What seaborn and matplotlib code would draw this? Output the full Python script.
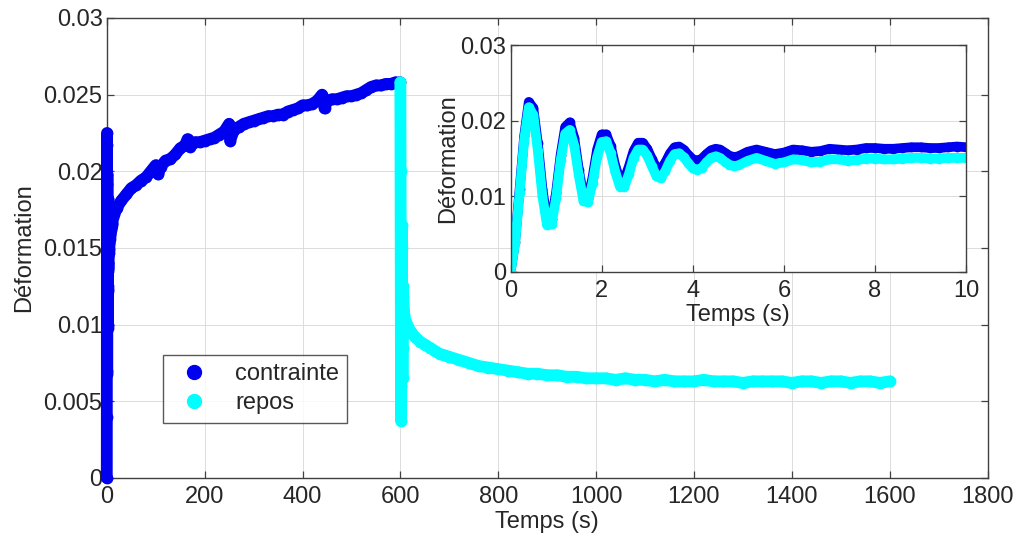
import matplotlib
matplotlib.use("Agg")
import matplotlib.pyplot as plt
from matplotlib.lines import Line2D
import seaborn as sns

sns.set_style("ticks", {"xtick.direction": "in", "ytick.direction": "in"})
plt.rcParams['font.family'] = ['Liberation Sans', 'DejaVu Sans']
plt.rc("font", size=17)

BLUE = "#0000f0"
CYAN = "#00ffff"

# inset: first 10 s
t_short = [0.0, 0.1, 0.2, 0.3, 0.4, 0.5, 0.6, 0.7, 0.8, 0.9,
           1.0, 1.1, 1.2, 1.3, 1.4, 1.5, 1.6, 1.7, 1.8, 1.9,
           2.0, 2.1, 2.2, 2.3, 2.4, 2.5, 2.6, 2.7, 2.8, 2.9,
           3.0, 3.1, 3.2, 3.3, 3.4, 3.5, 3.6, 3.7, 3.8, 3.9,
           4.0, 4.1, 4.2, 4.3, 4.4, 4.5, 4.6, 4.7, 4.8, 4.9,
           5.0, 5.2, 5.4, 5.6, 5.8, 6.0, 6.2, 6.4, 6.6, 6.8,
           7.0, 7.2, 7.4, 7.6, 7.8, 8.0, 8.2, 8.4, 8.6, 8.8,
           9.0, 9.2, 9.4, 9.6, 9.8, 10.0]
contrainte_short = [0.0000, 0.0040, 0.0110, 0.0180, 0.0225, 0.0217, 0.0170, 0.0110, 0.0068, 0.0070,
                    0.0105, 0.0155, 0.0192, 0.0198, 0.0177, 0.0135, 0.0100, 0.0098, 0.0125, 0.0162,
                    0.0182, 0.0182, 0.0167, 0.0140, 0.0122, 0.0123, 0.0140, 0.0160, 0.0171, 0.0171,
                    0.0163, 0.0150, 0.0138, 0.0136, 0.0145, 0.0157, 0.0165, 0.0166, 0.0162, 0.0155,
                    0.0149, 0.0147, 0.0150, 0.0156, 0.0161, 0.0163, 0.0162, 0.0158, 0.0154, 0.0152,
                    0.0153, 0.0159, 0.0162, 0.0159, 0.0156, 0.0158, 0.0162, 0.0161, 0.0159, 0.0160,
                    0.0163, 0.0162, 0.0161, 0.0162, 0.0164, 0.0164, 0.0163, 0.0163, 0.0164, 0.0165,
                    0.0165, 0.0164, 0.0164, 0.0165, 0.0166, 0.0165]
repos_short = [0.0000, 0.0038, 0.0105, 0.0175, 0.0218, 0.0208, 0.0160, 0.0100, 0.0062, 0.0063,
               0.0098, 0.0148, 0.0183, 0.0188, 0.0167, 0.0127, 0.0094, 0.0092, 0.0118, 0.0152,
               0.0172, 0.0173, 0.0157, 0.0132, 0.0113, 0.0113, 0.0130, 0.0151, 0.0162, 0.0162,
               0.0154, 0.0140, 0.0127, 0.0124, 0.0134, 0.0147, 0.0156, 0.0157, 0.0152, 0.0144,
               0.0137, 0.0135, 0.0138, 0.0145, 0.0151, 0.0153, 0.0151, 0.0146, 0.0142, 0.0140,
               0.0141, 0.0147, 0.0151, 0.0147, 0.0143, 0.0145, 0.0149, 0.0148, 0.0145, 0.0146,
               0.0149, 0.0149, 0.0147, 0.0148, 0.0150, 0.0150, 0.0149, 0.0149, 0.0150, 0.0151,
               0.0151, 0.0150, 0.0150, 0.0151, 0.0151, 0.0151]

# main plot: loading phase after the first 10 s
t_contrainte = [10, 20, 30, 40, 50, 60, 70, 80, 90, 100, 105, 110, 120, 130, 140, 150, 160, 165,
                170, 180, 190, 200, 210, 220, 230, 240, 250, 252, 260, 270, 280, 290, 300, 310,
                320, 330, 340, 350, 360, 370, 380, 390, 400, 410, 420, 430, 440, 445, 450, 460,
                470, 480, 490, 500, 510, 520, 530, 540, 550, 560, 570, 580, 590, 600]
contrainte = [0.0166, 0.0176, 0.0181, 0.0185, 0.0189, 0.0191, 0.0194, 0.0196, 0.0200, 0.0204, 0.0198,
              0.0203, 0.0207, 0.0208, 0.0211, 0.0215, 0.0217, 0.0221, 0.0216, 0.0219, 0.0219, 0.0220,
              0.0221, 0.0222, 0.0224, 0.0226, 0.0231, 0.0220, 0.0227, 0.0229, 0.0231, 0.0232, 0.0233,
              0.0234, 0.0235, 0.0236, 0.0236, 0.0237, 0.0237, 0.0239, 0.0240, 0.0241, 0.0243, 0.0243,
              0.0244, 0.0246, 0.0250, 0.0241, 0.0246, 0.0247, 0.0247, 0.0248, 0.0249, 0.0249, 0.0250,
              0.0251, 0.0253, 0.0255, 0.0256, 0.0256, 0.0257, 0.0257, 0.0258, 0.0258]

# main plot: rest phase
t_repos = [600, 600.4, 600.8, 601.2, 601.6, 602.0, 602.4, 602.8, 603.2, 603.6, 604.0, 604.4,
           604.8, 605.2, 605.6, 606, 608,
           610, 620, 630, 640, 650, 660, 670, 680, 690, 700, 720, 740, 760, 780, 800, 820, 840,
           860, 880, 900, 920, 940, 960, 980, 1000, 1020, 1040, 1060, 1080, 1100, 1120, 1140,
           1160, 1180, 1200, 1220, 1240, 1260, 1280, 1300, 1320, 1340, 1360, 1380, 1400, 1420,
           1440, 1460, 1480, 1500, 1520, 1540, 1560, 1580, 1600]
repos = [0.0258, 0.0200, 0.0130, 0.0060, 0.0037, 0.0070, 0.0120, 0.0165, 0.0150, 0.0110, 0.0080,
         0.0065, 0.0085, 0.0110, 0.0125, 0.0118, 0.0106,
         0.0103, 0.0096, 0.0092, 0.0089, 0.0087, 0.0085, 0.0083, 0.0081, 0.0080, 0.0079, 0.0077,
         0.0075, 0.0073, 0.0072, 0.0071, 0.0070, 0.0069, 0.0068, 0.0068, 0.0067, 0.0067, 0.0066,
         0.0066, 0.0065, 0.0065, 0.0065, 0.0064, 0.0065, 0.0064, 0.0064, 0.0063, 0.0064, 0.0063,
         0.0063, 0.0063, 0.0064, 0.0063, 0.0063, 0.0063, 0.0062, 0.0063, 0.0063, 0.0063, 0.0063,
         0.0062, 0.0063, 0.0063, 0.0062, 0.0063, 0.0063, 0.0062, 0.0063, 0.0063, 0.0062, 0.0063]

x_ticks = [0, 200, 400, 600, 800, 1000, 1200, 1400, 1600, 1800]
y_ticks = [0, 0.005, 0.01, 0.015, 0.02, 0.025, 0.03]
y_labels = ["0", "0.005", "0.01", "0.015", "0.02", "0.025", "0.03"]
inset_x_ticks = [0, 2, 4, 6, 8, 10]
inset_y_ticks = [0, 0.01, 0.02, 0.03]
inset_y_labels = ["0", "0.01", "0.02", "0.03"]


def style_axes(ax):
    for s in ax.spines.values():
        s.set_color("#404040")
        s.set_linewidth(1.0)
    ax.tick_params(which="both", direction="in", top=True, right=True,
                   length=5, width=0.9, color="#404040", labelsize=17)
    ax.tick_params(axis="x", pad=6)
    ax.tick_params(axis="y", pad=3)
    ax.grid(True, color="#dcdcdc", linewidth=0.7)
    ax.set_axisbelow(True)


fig = plt.figure(figsize=(10.17, 5.45), dpi=100)
ax = fig.add_axes([0.105, 0.123, 0.866, 0.844])

sns.lineplot(x=t_short + t_contrainte, y=contrainte_short + contrainte, ax=ax,
             estimator=None, sort=False, color=BLUE, linewidth=8.5,
             marker="o", markersize=8.5, markeredgewidth=0, solid_capstyle="round",
             clip_on=False, zorder=3)
sns.lineplot(x=t_repos, y=repos, ax=ax, estimator=None, sort=False, color=CYAN,
             linewidth=8.5, marker="o", markersize=8.5, markeredgewidth=0,
             solid_capstyle="round", zorder=3)

ax.set_xlim(0, 1800)
ax.set_ylim(0, 0.03)
ax.set_xticks(x_ticks)
ax.set_yticks(y_ticks)
ax.set_yticklabels(y_labels)
ax.set_xlabel("Temps (s)", fontsize=17, labelpad=2)
ax.set_ylabel("Déformation", fontsize=17, labelpad=6)
style_axes(ax)

handles = [Line2D([], [], ls="", marker="o", markersize=10, color=BLUE, label="contrainte"),
           Line2D([], [], ls="", marker="o", markersize=10, color=CYAN, label="repos")]
leg = ax.legend(handles=handles, loc="upper left", bbox_to_anchor=(0.064, 0.267),
                borderaxespad=0, fancybox=False, fontsize=17, handletextpad=0.8,
                labelspacing=0.3, borderpad=0.35, handlelength=1.9)
leg.get_frame().set_edgecolor("#303030")
leg.get_frame().set_linewidth(1.0)
leg.set_zorder(5)

axin = fig.add_axes([0.502, 0.501, 0.448, 0.416])
axin.set_facecolor("white")
sns.lineplot(x=t_short, y=contrainte_short, ax=axin, estimator=None, sort=False,
             color=BLUE, linewidth=7, marker="o", markersize=7, markeredgewidth=0,
             solid_capstyle="round")
sns.lineplot(x=t_short, y=repos_short, ax=axin, estimator=None, sort=False,
             color=CYAN, linewidth=7, marker="o", markersize=7, markeredgewidth=0,
             solid_capstyle="round")
axin.set_xlim(0, 10)
axin.set_ylim(0, 0.03)
axin.set_xticks(inset_x_ticks)
axin.set_yticks(inset_y_ticks)
axin.set_yticklabels(inset_y_labels)
axin.set_xlabel("Temps (s)", fontsize=17, labelpad=1)
axin.set_ylabel("Déformation", fontsize=17, labelpad=1)
style_axes(axin)

plt.savefig("out.png", dpi=100)
plt.close()
